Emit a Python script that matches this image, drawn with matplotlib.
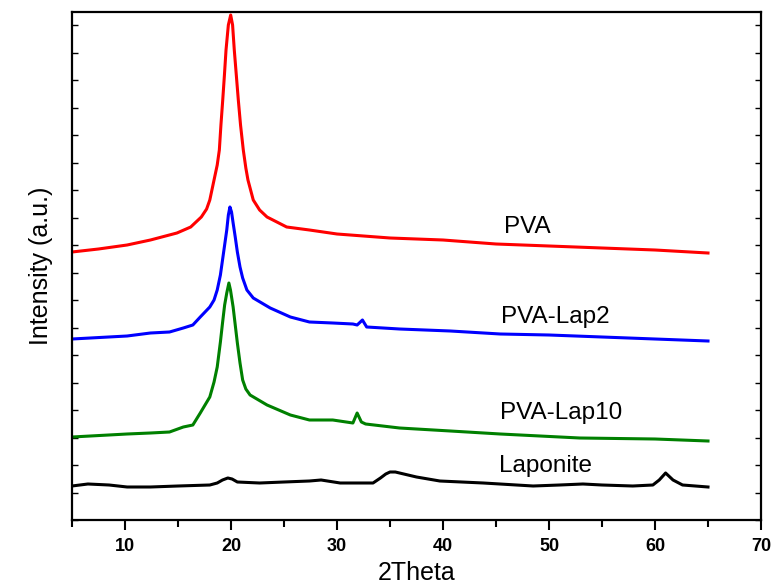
import matplotlib
matplotlib.use("Agg")
import matplotlib.pyplot as plt
from matplotlib.ticker import MultipleLocator

plt.rcParams['font.family'] = ['Liberation Sans', 'DejaVu Sans']

# 2Theta / intensity (a.u.)
pva_x = [5, 7.5, 10.2, 12.4, 14.9, 16.2, 17.2, 17.7, 18.0, 18.5, 18.7, 18.9, 19.05, 19.22,
         19.38, 19.53, 19.75, 19.97, 20.15, 20.31, 20.5, 20.69, 20.9, 21.16, 21.4, 21.6,
         22.1, 22.7, 23.4, 25.25, 27.4, 30, 35, 40, 45, 50, 55, 60, 65]
pva_y = [268, 271, 275, 280, 287, 293, 303, 311, 320, 345, 355, 370, 395, 420,
         445, 470, 495, 505, 495, 470, 445, 420, 395, 370, 352, 340,
         320, 310, 303, 293, 290, 286, 282, 280, 276, 274, 272, 270, 267]

lap2_x = [5, 10.2, 12.4, 14.2, 15.5, 16.4, 17.1, 18.0, 18.4, 18.7, 19.0, 19.2, 19.4, 19.6,
          19.75, 19.9, 20.05, 20.2, 20.4, 20.6, 20.85, 21.1, 21.5, 22.1, 23.7, 25.6, 27.4,
          29.6, 31.5, 31.9, 32.4, 32.8, 35.9, 40.7, 45.4, 50, 55, 60, 65]
lap2_y = [181, 184, 187, 188, 192, 195, 203, 213, 220, 230, 245, 260, 275, 290,
          305, 313, 308, 297, 283, 268, 253, 242, 230, 222, 212, 203, 198,
          197, 196, 195, 200, 193, 191, 189, 186, 185, 183, 181, 179]

lap10_x = [5, 10.2, 12.4, 14.2, 15.5, 16.4, 17.1, 18.0, 18.4, 18.7, 19.0, 19.2, 19.4, 19.6,
           19.8, 19.95, 20.2, 20.4, 20.6, 20.85, 21.1, 21.4, 21.8, 23.4, 25.6, 27.4, 29.6,
           31.5, 31.9, 32.3, 32.7, 35.9, 40.7, 45.4, 52.9, 60, 65]
lap10_y = [83, 86, 87, 88, 93, 95, 107, 123, 138, 153, 178, 197, 215, 227,
           237, 230, 213, 195, 177, 157, 140, 131, 125, 115, 105, 100, 100,
           97, 107, 98, 96, 92, 89, 86, 82, 81, 79]

lapo_x = [5, 6.5, 8.5, 10.2, 12.4, 15, 18.0, 18.7, 19.2, 19.7, 20.1, 20.6, 22.7, 25, 27.4,
          28.5, 30.3, 33.4, 34.1, 34.6, 35.0, 35.5, 35.9, 37.5, 39.7, 43.8, 48.5, 51, 53.2,
          55, 57.9, 59.8, 60.4, 61.0, 61.7, 62.6, 65]
lapo_y = [34, 36, 35, 33, 33, 34, 35, 37, 40, 42, 41, 38, 37, 38, 39,
          40, 37, 37, 42, 46, 48, 48, 47, 43, 39, 37, 34, 35, 36,
          35, 34, 35, 40, 47, 40, 35, 33]

labels = ["PVA", "PVA-Lap2", "PVA-Lap10", "Laponite"]
label_x = [45.8, 45.5, 45.4, 45.3]
label_y = [293, 203, 107, 54]
colors = ["#ff0000", "#0000ff", "#008000", "#000000"]
xs_all = [pva_x, lap2_x, lap10_x, lapo_x]
ys_all = [pva_y, lap2_y, lap10_y, lapo_y]

fig = plt.figure(figsize=(7.75, 5.85), dpi=100)
ax = fig.add_axes([72/775, 1-520/585, (761-72)/775, (520-12)/585])

for name, xs, ys, col, lx, ly in zip(labels, xs_all, ys_all, colors, label_x, label_y):
    ax.plot(xs, ys, color=col, lw=2.2, solid_joinstyle='round')
    ax.text(lx, ly, name, fontsize=17.5, va='center', ha='left', color='black')

ax.set_xlim(5, 70)
ax.set_ylim(0, 508)
ax.xaxis.set_major_locator(MultipleLocator(10))
ax.xaxis.set_minor_locator(MultipleLocator(5))
ax.yaxis.set_major_locator(MultipleLocator(27.5))
ax.set_yticklabels([])
ax.tick_params(axis='x', which='major', direction='out', length=7, width=1.5,
               labelsize=13, pad=6, top=False)
ax.tick_params(axis='x', which='minor', direction='out', length=5, width=1.5, top=False)
ax.tick_params(axis='y', which='major', direction='in', length=4, width=1,
               left=True, right=True, labelleft=False)
for lab in ax.get_xticklabels():
    lab.set_fontweight('bold')
for s in ax.spines.values():
    s.set_linewidth(1.6)

ax.set_xlabel("2Theta", fontsize=18, labelpad=4)
ax.set_ylabel("Intensity (a.u.)", fontsize=18, labelpad=14)

fig.savefig("out.png", dpi=100)
